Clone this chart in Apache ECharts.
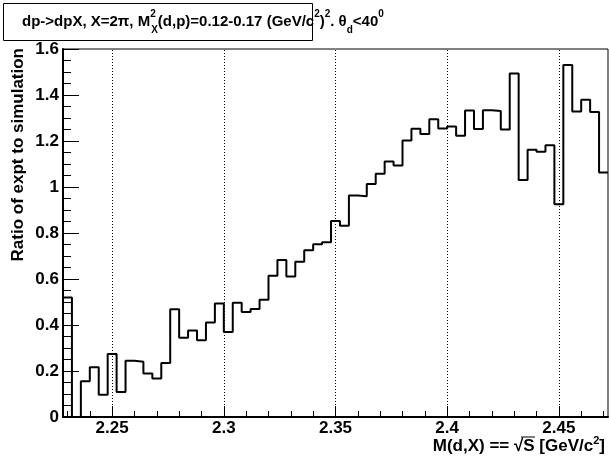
<!DOCTYPE html>
<html>
<head>
<meta charset="utf-8">
<script src="https://cdn.jsdelivr.net/npm/echarts@6/dist/echarts.min.js"></script>
<style>html,body{margin:0;padding:0;background:#fff}#c{width:609px;height:463px}</style>
</head>
<body>
<div id="c"></div>
<script>
// Histogram binning (x in GeV/c^2)
const xMin = 2.228;
const xMax = 2.472;
const binWidth = 0.004;
// Ratio of expt to simulation, one value per bin (61 bins)
const ratio = [
  0.52, 0.0, 0.155, 0.216, 0.097, 0.274, 0.109, 0.245, 0.240, 0.189,
  0.167, 0.235, 0.468, 0.345, 0.376, 0.334, 0.411, 0.493, 0.370, 0.497,
  0.457, 0.470, 0.510, 0.614, 0.683, 0.611, 0.675, 0.725, 0.751, 0.760,
  0.852, 0.831, 0.963, 0.960, 1.013, 1.058, 1.111, 1.093, 1.202, 1.253,
  1.230, 1.295, 1.254, 1.263, 1.223, 1.333, 1.252, 1.334, 1.330, 1.250,
  1.493, 1.030, 1.162, 1.153, 1.182, 0.925, 1.530, 1.328, 1.379, 1.326,
  1.063
];
const xMajorTicks = [2.25, 2.3, 2.35, 2.4, 2.45];
const xMinorTicks = [2.23, 2.24, 2.26, 2.27, 2.28, 2.29, 2.31, 2.32, 2.33, 2.34,
  2.36, 2.37, 2.38, 2.39, 2.41, 2.42, 2.43, 2.44, 2.46, 2.47];
const yMin = 0, yMax = 1.6, yStep = 0.2;

const FONT = '"Liberation Sans", Arial, sans-serif';

const stepData = [[xMin, 0]];
ratio.forEach((v, i) => stepData.push([xMin + i * binWidth, v]));
stepData.push([xMin + ratio.length * binWidth, ratio[ratio.length - 1]]);

const chart = echarts.init(document.getElementById('c'), null, {renderer: 'canvas'});
chart.setOption({
  animation: false,
  backgroundColor: '#fff',
  grid: {left: 63, right: 1, top: 49, bottom: 46, show: true, borderColor: '#000', borderWidth: 1},
  xAxis: [{
    type: 'value', min: xMin, max: xMax, position: 'bottom',
    axisLine: {show: true, onZero: false, lineStyle: {color: '#000', width: 2}},
    axisTick: {show: true, inside: true, length: 11, lineStyle: {color: '#000', width: 1}, customValues: xMajorTicks},
    axisLabel: {show: true, customValues: xMajorTicks, margin: 3, color: '#000',
      fontFamily: FONT, fontWeight: 'bold', fontSize: 17,
      formatter: v => String(+v.toFixed(2))},
    splitLine: {show: false}
  }, {
    type: 'value', min: xMin, max: xMax, position: 'bottom',
    axisLine: {show: false},
    axisTick: {show: true, inside: true, length: 6, lineStyle: {color: '#000', width: 1}, customValues: xMinorTicks},
    axisLabel: {show: false},
    splitLine: {show: false}
  }],
  yAxis: {
    type: 'value', min: yMin, max: yMax, interval: yStep,
    axisLine: {show: true, onZero: false, lineStyle: {color: '#000', width: 2}},
    axisTick: {show: true, inside: true, length: 16, lineStyle: {color: '#000', width: 1}},
    minorTick: {show: true, splitNumber: 4, length: 8, lineStyle: {color: '#000', width: 1}},
    axisLabel: {margin: 4, color: '#000', fontFamily: FONT, fontWeight: 'bold', fontSize: 17,
      formatter: v => String(+v.toFixed(1))},
    splitLine: {show: false}
  },
  series: [{
    type: 'line', step: 'end', data: stepData, showSymbol: false, symbol: 'none',
    lineStyle: {color: '#000', width: 2}, clip: true,
    markLine: {
      silent: true, symbol: 'none', label: {show: false},
      lineStyle: {color: '#000', type: [1, 2], width: 1},
      data: xMajorTicks.map(v => ({xAxis: v}))
    }
  }],
  graphic: [
    {type: 'rect', left: 3, top: 3, shape: {width: 309, height: 37},
      style: {fill: '#fff', stroke: '#000', lineWidth: 1}, z: 10},
    {type: 'text', x: 22, y: 22, z: 11,
      style: {
        text: 'dp->dpX, X=2π, M{supz|2}{sub|X}(d,p)=0.12-0.17 (GeV/c{sup|2}){sup|2}. θ{sub|d}<40{sup|0}',
        fontFamily: FONT, fontWeight: 'bold', fontSize: 15, fill: '#000',
        verticalAlign: 'middle', align: 'left', lineHeight: 26,
        rich: {
          sup: {fontFamily: FONT, fontWeight: 'bold', fontSize: 10, verticalAlign: 'top', lineHeight: 12, fill: '#000'},
          supz: {fontFamily: FONT, fontWeight: 'bold', fontSize: 10, verticalAlign: 'top', lineHeight: 12, width: 1, fill: '#000'},
          sub: {fontFamily: FONT, fontWeight: 'bold', fontSize: 10, verticalAlign: 'bottom', lineHeight: 10, fill: '#000'}
        }
      }},
    {type: 'text', x: 18, y: 48, rotation: Math.PI / 2, z: 11,
      style: {text: 'Ratio of expt to simulation', fontFamily: FONT, fontWeight: 'bold', fontSize: 17,
        fill: '#000', align: 'right', verticalAlign: 'middle'}},
    {type: 'text', x: 605, y: 446, z: 11,
      style: {text: 'M(d,X) == √S [GeV/c{sup|2}]', fontFamily: FONT, fontWeight: 'bold', fontSize: 17,
        fill: '#000', align: 'right', verticalAlign: 'middle', lineHeight: 22,
        rich: {sup: {fontFamily: FONT, fontWeight: 'bold', fontSize: 11, verticalAlign: 'top', lineHeight: 11, fill: '#000'}}}},
    {type: 'line', z: 11, shape: {x1: 521, y1: 437, x2: 535, y2: 437}, style: {stroke: '#000', lineWidth: 1}}
  ]
});
</script>
</body>
</html>
